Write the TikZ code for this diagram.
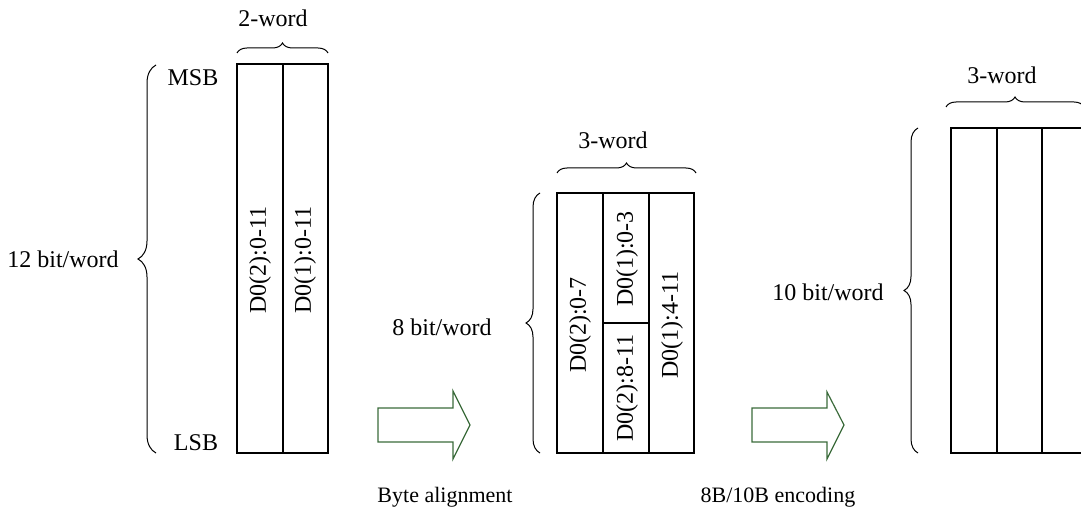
\documentclass[tikz,border=0pt]{standalone}
\usepackage{fontspec}
\setmainfont{Liberation Serif}
\usepackage{tikz}
\usetikzlibrary{
    arrows.meta,
    positioning,
    calc,
    decorations.pathreplacing
}

\begin{document}
\begin{tikzpicture}[x=0.5pt,y=-0.5pt,
        txt/.style={inner sep=1pt,font=\fontsize{12}{14}\selectfont},
        steptxt/.style={inner sep=1pt,font=\fontsize{11}{13}\selectfont},
        vtxt/.style={txt,rotate=90},
        cellline/.style={line width=0.7pt},
        bracedeco/.style={decorate,decoration={brace,amplitude=#1},line width=0.5pt},
        bigarrow/.style={draw=arrowcolor,line width=0.6pt,fill=white}]
            \definecolor{arrowcolor}{HTML}{3B6B3B}
            \useasboundingbox (0,0) rectangle (1081,513);
            % 12 bit words
            \draw[cellline] (237,64) rectangle (328,453);
            \draw[cellline] (283,64) -- (283,453);
            \node[vtxt] (a1) at (260,260) {D0(2):0-11};
            \node[vtxt] (a2) at (305,260) {D0(1):0-11};
            \node[txt] (msb) at (193,78) {MSB};
            \node[txt] (lsb) at (196,443) {LSB};
            \draw[bracedeco=5pt] (237,53) -- (328,53);
            \node[txt] (w2) at (273,18) {2-word};
            \draw[bracedeco=9pt] (156,453) -- (156,65);
            \node[txt] (b12) at (63,259) {12 bit/word};
            % byte alignment
            \draw[bigarrow] (378,408) -- (453,408) -- (453,391) -- (470,425)
                -- (453,459) -- (453,442) -- (378,442) -- cycle;
            \node[steptxt] (ba) at (445,497) {Byte alignment};
            \draw[cellline] (557,193) rectangle (694,453);
            \draw[cellline] (603,193) -- (603,453) (649,193) -- (649,453)
                (603,323) -- (649,323);
            \node[vtxt] (c1) at (580,325) {D0(2):0-7};
            \node[vtxt] (c2) at (627,259) {D0(1):0-3};
            \node[vtxt] (c3) at (627,388) {D0(2):8-11};
            \node[vtxt] (c4) at (672,325) {D0(1):4-11};
            \draw[bracedeco=5pt] (557,173) -- (696,173);
            \node[txt] (w3a) at (613,140) {3-word};
            \draw[bracedeco=7pt] (540,453) -- (540,193);
            \node[txt] (b8) at (442,327) {8 bit/word};
            % 8B/10B
            \draw[bigarrow] (752,408) -- (827,408) -- (827,392) -- (844,425)
                -- (827,459) -- (827,442) -- (752,442) -- cycle;
            \node[steptxt] (enc) at (778,497) {8B/10B encoding};
            \draw[cellline] (951,128) rectangle (1088,453);
            \draw[cellline] (997,128) -- (997,453) (1042,128) -- (1042,453);
            \draw[bracedeco=5pt] (946,107) -- (1084,107);
            \node[txt] (w3b) at (1002,75) {3-word};
            \draw[bracedeco=7pt] (918,453) -- (918,128);
            \node[txt] (b10) at (828,292) {10 bit/word};
        \end{tikzpicture}
\end{document}
